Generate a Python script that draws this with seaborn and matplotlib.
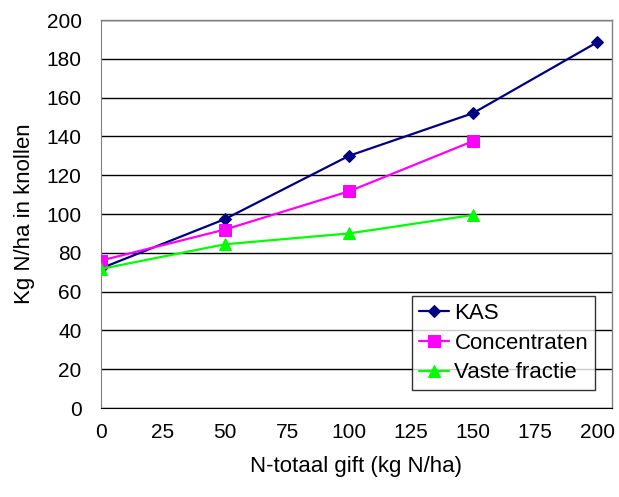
import matplotlib
matplotlib.use("Agg")
import matplotlib.pyplot as plt
import seaborn as sns
import pandas as pd

# N-gift (kg N/ha) and N-opname in knollen (kg N/ha) per meststof
gift_kas = [0, 50, 100, 150, 200]
kas = [72, 97.4, 130, 152, 188.5]
gift_conc = [0, 50, 100, 150]
concentraten = [76, 92, 111.7, 137.6]
gift_vaste = [0, 50, 100, 150]
vaste_fractie = [71.7, 84.4, 90, 99.5]

series = ["KAS", "Concentraten", "Vaste fractie"]
x_ticks = [0, 25, 50, 75, 100, 125, 150, 175, 200]
y_ticks = [0, 20, 40, 60, 80, 100, 120, 140, 160, 180, 200]

df = pd.concat([
    pd.DataFrame({"gift": gift_kas, "opname": kas, "meststof": series[0]}),
    pd.DataFrame({"gift": gift_conc, "opname": concentraten, "meststof": series[1]}),
    pd.DataFrame({"gift": gift_vaste, "opname": vaste_fractie, "meststof": series[2]}),
])

sns.set_style("white", {"text.color": "black", "axes.labelcolor": "black",
                        "xtick.color": "black", "ytick.color": "black"})
plt.rcParams["font.family"] = ["Liberation Sans", "DejaVu Sans"]

fig = plt.figure(figsize=(6.19, 4.97), dpi=100)
ax = fig.add_axes([101 / 619, 89 / 497, 511 / 619, 388 / 497])

palette = {"KAS": "#000080", "Concentraten": "#FF00FF", "Vaste fractie": "#00FF00"}
markers = {"KAS": "D", "Concentraten": "s", "Vaste fractie": "^"}
sizes = {"KAS": 6.5, "Concentraten": 8.5, "Vaste fractie": 9}

for name in series:
    sub = df[df["meststof"] == name]
    sns.lineplot(data=sub, x="gift", y="opname", color=palette[name],
                 marker=markers[name], markersize=sizes[name],
                 markeredgecolor=palette[name], linewidth=1.6,
                 label=name, ax=ax, zorder=3)

ax.set_xlim(0, 206)
ax.set_ylim(0, 200)
ax.set_xticks(x_ticks)
ax.set_yticks(y_ticks)
ax.tick_params(axis="both", labelsize=15, length=5, width=1, colors="black",
               direction="out")
ax.tick_params(axis="y", pad=9)
ax.tick_params(axis="x", pad=6)
ax.yaxis.grid(True, color="#000000", linewidth=1)
ax.xaxis.grid(False)

for side in ["top", "right"]:
    ax.spines[side].set_color("#808080")
    ax.spines[side].set_linewidth(1)
ax.spines["left"].set_color("#808080")
ax.spines["bottom"].set_color("#000000")

ax.set_xlabel("N-totaal gift (kg N/ha)", fontsize=16, labelpad=10, color="black")
ax.set_ylabel("Kg N/ha in knollen", fontsize=16, labelpad=8, color="black")

leg = ax.legend(loc="lower left", bbox_to_anchor=(0.609, 0.046), fontsize=16,
                frameon=True, fancybox=False, edgecolor="#000000",
                borderpad=0.3, labelspacing=0.4, handlelength=1.35,
                handletextpad=0.25, borderaxespad=0)
leg.get_frame().set_linewidth(1)
for t in leg.get_texts():
    t.set_color("black")

fig.savefig("out.png", dpi=100)
